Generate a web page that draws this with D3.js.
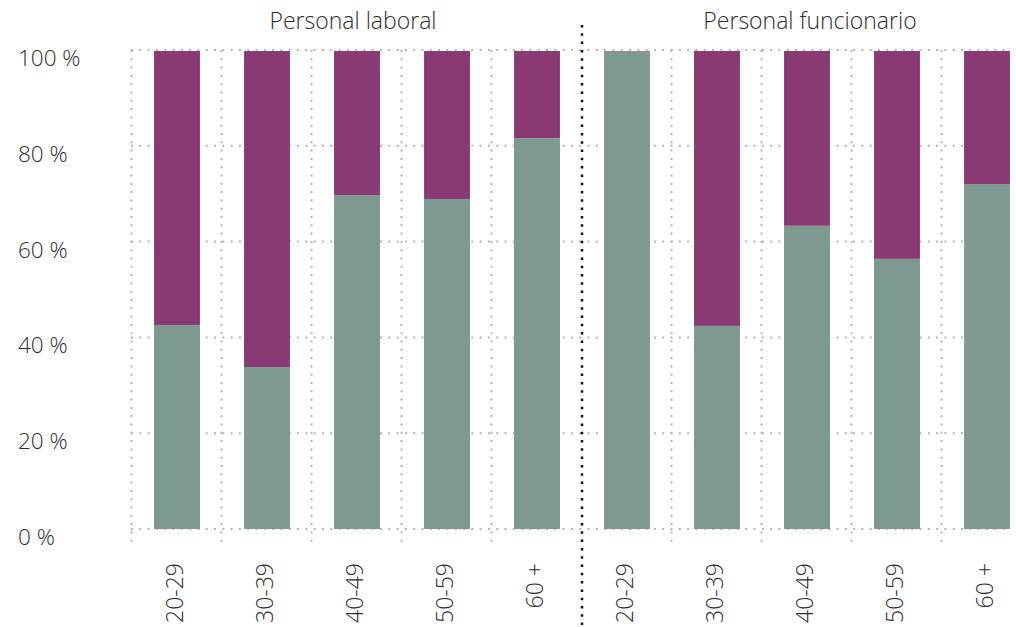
<!DOCTYPE html>
<html>
<head>
<meta charset="utf-8">
<script src="https://cdn.jsdelivr.net/npm/d3@7"></script>
<style>
  html, body { margin: 0; padding: 0; background: #fff; }
  svg { display: block; }
  text { font-family: "Open Sans", "Noto Sans", sans-serif; font-weight: 300; fill: #2e2e2e; }
</style>
</head>
<body>
<svg id="chart" width="1016" height="627"></svg>
<script>
// ---- data ----
const groups = ["Personal laboral", "Personal funcionario"];
const ageBands = ["20-29", "30-39", "40-49", "50-59", "60 +"];
// share (%) per age band, green (lower) segment
const laboralLower = [42.6, 33.8, 69.7, 68.9, 81.6];
const funcionarioLower = [99.7, 42.4, 63.3, 56.4, 72.0];
// upper (purple) segment
const laboralUpper = [57.4, 66.2, 30.3, 31.1, 18.4];
const funcionarioUpper = [0.3, 57.6, 36.7, 43.6, 28.0];
const yTicks = [0, 20, 40, 60, 80, 100];
const yTickLabels = ["0 %", "20 %", "40 %", "60 %", "80 %", "100 %"];

const colLower = "#7e998f";
const colUpper = "#8a3a72";
const gridCol = "#bab3ab";

// build rows
const rows = [];
groups.forEach((g, gi) => {
  const lo = gi === 0 ? laboralLower : funcionarioLower;
  const up = gi === 0 ? laboralUpper : funcionarioUpper;
  ageBands.forEach((a, i) => rows.push({ key: g + "|" + a, group: g, gi, age: a, lower: lo[i], upper: up[i] }));
});

const svg = d3.select("#chart");
const mLeft = 132, mRight = 1032, mTop = 50, mBottom = 529;

const x = d3.scaleBand().domain(rows.map(d => d.key)).range([mLeft, mRight])
  .paddingInner(0.49).paddingOuter(0.245);
const y = d3.scaleLinear().domain([0, 100]).range([mBottom, mTop]);
const step = x.step();
const plotRight = x(rows[rows.length - 1].key) + x.bandwidth();

// horizontal grid
svg.append("g").selectAll("line").data(yTicks).join("line")
  .attr("x1", mLeft - 1).attr("x2", plotRight)
  .attr("y1", d => y(d)).attr("y2", d => y(d))
  .attr("stroke", gridCol).attr("stroke-width", 2).attr("stroke-dasharray", "2,6.3");

// vertical grid (band boundaries), except the group divider
const boundaries = rows.map((d, i) => i).filter(i => i !== ageBands.length);
svg.append("g").selectAll("line").data(boundaries).join("line")
  .attr("x1", i => mLeft + i * step - 0.5).attr("x2", i => mLeft + i * step - 0.5)
  .attr("y1", y(100)).attr("y2", y(0) + 16)
  .attr("stroke", gridCol).attr("stroke-width", 2).attr("stroke-dasharray", "2,6.3");

// bars
const bars = svg.append("g");
bars.selectAll("rect.lo").data(rows).join("rect").attr("class", "lo")
  .attr("x", d => x(d.key)).attr("width", x.bandwidth())
  .attr("y", d => y(d.lower)).attr("height", d => y(0) - y(d.lower))
  .attr("fill", colLower);
bars.selectAll("rect.up").data(rows.filter(d => d.upper > 0)).join("rect").attr("class", "up")
  .attr("x", d => x(d.key)).attr("width", x.bandwidth())
  .attr("y", d => y(d.lower + d.upper) + 1).attr("height", d => Math.max(0, y(d.lower) - y(d.lower + d.upper) - 1))
  .attr("fill", colUpper);

// divider
const divX = mLeft + ageBands.length * step;
svg.append("line").attr("x1", divX).attr("x2", divX).attr("y1", 25).attr("y2", 627)
  .attr("stroke", "#111").attr("stroke-width", 2.5).attr("stroke-dasharray", "2.5,5.8");

// y labels
svg.append("g").selectAll("text").data(yTicks).join("text")
  .attr("x", 18).attr("y", d => y(d) + 16)
  .style("font-size", "22.5px").text((d, i) => yTickLabels[i]);

// x labels
svg.append("g").selectAll("text").data(rows).join("text")
  .attr("transform", d => `translate(${x(d.key) + x.bandwidth() / 2 + 5.5},563) rotate(-90)`)
  .attr("text-anchor", "end").style("font-size", "23px").text(d => d.age);

// group titles
svg.append("g").selectAll("text").data(groups).join("text")
  .attr("x", (d, i) => i === 0 ? (mLeft + divX) / 2 - 4 : (divX + mRight) / 2 + 3)
  .attr("y", 29).attr("text-anchor", "middle").style("font-size", "23px").text(d => d);
</script>
</body>
</html>
